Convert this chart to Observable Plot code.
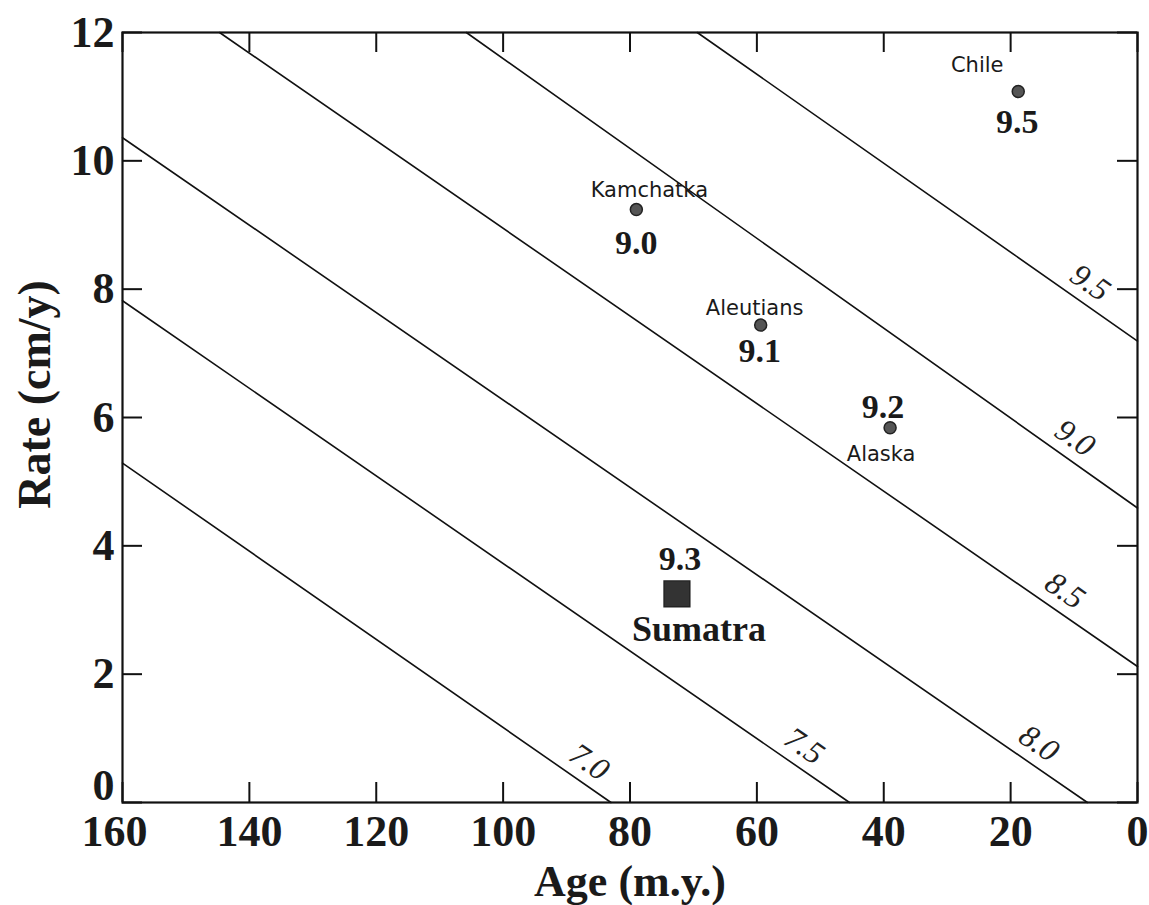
<!DOCTYPE html>
<html><head><meta charset="utf-8">
<script src="https://cdn.jsdelivr.net/npm/d3@7"></script>
<script src="https://cdn.jsdelivr.net/npm/@observablehq/plot@0.6"></script>
<style>body{margin:0;background:#fff;} #chart svg{display:block;}</style>
</head><body><div id="chart"></div>
<script>
// Contour lines of predicted magnitude (endpoints)
const contourLevels = ["7.0", "7.5", "8.0", "8.5", "9.0", "9.5"];
const contourAge1  = [160, 160, 160, 144.7, 105.8, 69.4];
const contourRate1 = [5.29, 7.82, 10.36, 12, 12, 12];
const contourAge2  = [83.0, 45.4, 7.9, 0, 0, 0];
const contourRate2 = [0, 0, 0, 2.12, 4.59, 7.19];
const contourLabelAge  = [88.3, 54.4, 17.4, 13.3, 11.7, 9.3];
const contourLabelRate = [0.36, 0.61, 0.65, 3.03, 5.41, 7.83];

// Earthquakes
const quakeNames = ["Chile", "Kamchatka", "Aleutians", "Alaska", "Sumatra"];
const quakeAge   = [18.8, 79.0, 59.4, 39.0, 72.6];
const quakeRate  = [11.08, 9.24, 7.44, 5.84, 3.25];
const quakeMagnitude = ["9.5", "9.0", "9.1", "9.2", "9.3"];

// Ticks
const xTicks = [160, 140, 120, 100, 80, 60, 40, 20, 0];
const yTicks = [0, 2, 4, 6, 8, 10, 12];

// Build tables
const contourLines = contourLevels.flatMap((lvl, i) => [
  {level: lvl, age: contourAge1[i], rate: contourRate1[i]},
  {level: lvl, age: contourAge2[i], rate: contourRate2[i]}
]);
const contourLabels = contourLevels.map((lvl, i) => ({level: lvl, age: contourLabelAge[i], rate: contourLabelRate[i]}));
const quakes = quakeNames.map((n, i) => ({name: n, age: quakeAge[i], rate: quakeRate[i], mag: quakeMagnitude[i]}));

// Label layout (pixel offsets)
const nameLayout = {Chile: [-41, -26], Kamchatka: [13, -19], Aleutians: [-6, -17], Alaska: [-9, 26]};
const magLayout = {Chile: [-1, 31], Kamchatka: [0, 34], Aleutians: [-1, 26], Alaska: [-7, -21], Sumatra: [3, -35]};

const W = 1149, H = 905, mL = 122, mR = 12, mT = 32, mB = 103;
const innerW = W - mL - mR, innerH = H - mT - mB, tickLen = 20;
const serif = "Liberation Serif, Times New Roman, serif";
const sans = "DejaVu Sans, sans-serif";
const axisText = {tickSize: 0, fontSize: 44, fontWeight: "bold", fontFamily: serif, label: null, fill: "#1a1a1a", tickFormat: d3.format("d")};

const marks = [
  Plot.line(contourLines, {x: "age", y: "rate", z: "level", stroke: "#111", strokeWidth: 1.6}),
  Plot.text(contourLabels, {x: "age", y: "rate", text: "level", rotate: 34.8, lineAnchor: "bottom", textAnchor: "middle",
    dx: 6, dy: -9, fontStyle: "italic", fontSize: 32, fontFamily: serif, fill: "#222"}),
  // inward ticks on all four sides
  Plot.tickX(xTicks, {x: d => d, insetTop: innerH - tickLen, stroke: "#111", strokeWidth: 2}),
  Plot.tickX(xTicks, {x: d => d, insetBottom: innerH - tickLen, stroke: "#111", strokeWidth: 2}),
  Plot.tickY(yTicks, {y: d => d, insetRight: innerW - tickLen, stroke: "#111", strokeWidth: 2}),
  Plot.tickY(yTicks, {y: d => d, insetLeft: innerW - tickLen, stroke: "#111", strokeWidth: 2}),
  Plot.frame({stroke: "#111", strokeWidth: 2.2}),
  Plot.axisX(xTicks.filter(d => d !== 160), {...axisText, tickPadding: 12}),
  Plot.axisX(xTicks.filter(d => d === 160), {...axisText, tickPadding: 12, dx: -8}),
  Plot.axisY(yTicks.filter(d => d !== 0), {...axisText, tickPadding: 8}),
  Plot.axisY(yTicks.filter(d => d === 0), {...axisText, tickPadding: 8, dy: -17}),
  Plot.text(["Age (m.y.)"], {frameAnchor: "bottom", lineAnchor: "middle", textAnchor: "middle", dy: 79,
    fontSize: 44, fontWeight: "bold", fontFamily: serif, fill: "#1a1a1a"}),
  Plot.text(["Rate (cm/y)"], {frameAnchor: "left", textAnchor: "middle", lineAnchor: "middle", dx: -87, dy: -23, rotate: -90,
    fontSize: 46, fontWeight: "bold", fontFamily: serif, fill: "#1a1a1a"}),
  Plot.dot(quakes.filter(d => d.name !== "Sumatra"), {x: "age", y: "rate", r: 6, fill: "#555", stroke: "#222", strokeWidth: 1.5}),
  Plot.dot(quakes.filter(d => d.name === "Sumatra"), {x: "age", y: "rate", symbol: "square", r: 14.5, fill: "#333", stroke: "#222"}),
  ...quakes.filter(d => nameLayout[d.name]).map(d =>
    Plot.text([d], {x: "age", y: "rate", text: "name", dx: nameLayout[d.name][0], dy: nameLayout[d.name][1],
      fontSize: 21, fontFamily: sans, fill: "#1a1a1a"})),
  ...quakes.map(d =>
    Plot.text([d], {x: "age", y: "rate", text: "mag", dx: magLayout[d.name][0], dy: magLayout[d.name][1],
      fontSize: 34, fontWeight: "bold", fontFamily: serif, fill: "#1a1a1a"})),
  Plot.text(quakes.filter(d => d.name === "Sumatra"), {x: "age", y: "rate", text: "name", dx: 22, dy: 36,
    fontSize: 36, fontWeight: "bold", fontFamily: serif, fill: "#1a1a1a"})
];

const chart = Plot.plot({
  width: W, height: H,
  marginLeft: mL, marginRight: mR, marginTop: mT, marginBottom: mB,
  x: {domain: [160, 0], axis: null},
  y: {domain: [0, 12], axis: null},
  style: {background: "#fff", color: "#111", overflow: "visible"},
  marks
});
document.getElementById("chart").appendChild(chart);
</script>
</body></html>
